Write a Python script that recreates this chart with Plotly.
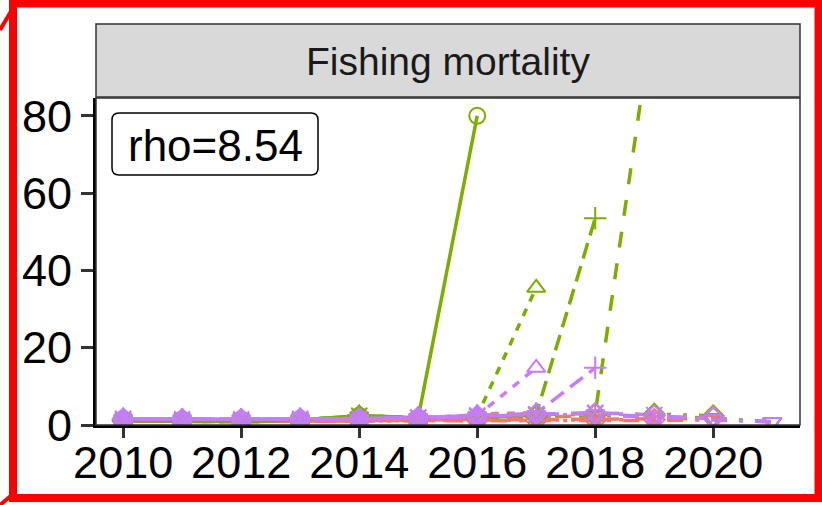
import plotly.graph_objects as go

# ---------------- data ----------------
years = list(range(2010, 2022))
peels = [2016, 2017, 2018, 2019, 2020, 2021]

# red model (one array per retrospective peel, values 2010..peel year)
red_2016 = [1.0, 0.9, 0.9, 1.0, 1.1, 1.3, 1.6]
red_2017 = [1.0, 0.9, 0.9, 1.0, 1.1, 1.3, 2.8, 3.2]
red_2018 = [1.0, 0.9, 0.9, 1.0, 1.1, 1.3, 1.5, 2.0, 2.4]
red_2019 = [1.0, 0.9, 0.9, 1.0, 1.1, 1.2, 1.3, 1.4, 1.5, 1.6]
red_2020 = [1.0, 0.9, 0.9, 1.0, 1.1, 1.2, 1.2, 1.2, 1.3, 1.4, 1.8]
red_2021 = [1.0, 0.9, 0.9, 1.0, 1.0, 1.1, 1.1, 1.1, 1.2, 1.2, 1.3, 0.8]

# green model
green_2016 = [1.2, 1.0, 1.0, 1.3, 2.4, 1.9, 80.0]
green_2017 = [1.2, 1.0, 1.0, 1.3, 2.4, 1.9, 2.4, 35.5]
green_2018 = [1.2, 1.0, 1.0, 1.3, 2.4, 1.9, 2.3, 2.8, 53.5]
green_2019 = [1.2, 1.0, 1.0, 1.3, 2.4, 1.9, 2.2, 2.6, 3.0, 108.0]
green_2020 = [1.2, 1.0, 1.0, 1.3, 2.3, 1.8, 2.1, 2.4, 2.8, 2.8, 2.4]
green_2021 = [1.2, 1.0, 1.0, 1.3, 2.2, 1.8, 2.0, 2.2, 2.5, 2.2, 1.8, 0.8]

# purple model
purple_2016 = [1.6, 1.5, 1.5, 1.6, 1.6, 1.9, 2.2]
purple_2017 = [1.6, 1.5, 1.5, 1.6, 1.6, 1.9, 2.4, 14.8]
purple_2018 = [1.6, 1.5, 1.5, 1.6, 1.6, 1.9, 2.5, 3.0, 14.8]
purple_2019 = [1.6, 1.5, 1.5, 1.6, 1.6, 1.9, 2.5, 2.8, 3.2, 2.6]
purple_2020 = [1.6, 1.5, 1.5, 1.6, 1.6, 1.9, 2.4, 2.8, 3.0, 2.4, 2.0]
purple_2021 = [1.6, 1.5, 1.5, 1.6, 1.6, 1.8, 2.3, 2.6, 2.8, 2.2, 1.6, 0.8]

rho_label = "rho=8.54"
panel_title = "Fishing mortality"
x_ticks = [2010, 2012, 2014, 2016, 2018, 2020]
y_ticks = [0, 20, 40, 60, 80]

models = [
    ("#F8766D", [red_2016, red_2017, red_2018, red_2019, red_2020, red_2021]),
    ("#7CAE00", [green_2016, green_2017, green_2018, green_2019, green_2020, green_2021]),
    ("#C77CFF", [purple_2016, purple_2017, purple_2018, purple_2019, purple_2020, purple_2021]),
]

# ---------------- styling ----------------
dashes = ["solid", "8px,8px", "16px,8px", "16px,16px", "4px,12px", "4px,12px,16px,12px"]
symbols = ["circle-open", "triangle-up-open", "cross-thin-open", "x-thin-open",
           "diamond-open", "triangle-down-open"]

W, H = 822, 505
L, R, T, B = 96, 22, 98, 80
PW, PH = W - L - R, H - T - B


def px(xp):
    return (xp - L) / PW


def py(yp):
    return (H - B - yp) / PH


fig = go.Figure()

# lines first, then points (ggplot layer order)
for color, series in models:
    for i, vals in enumerate(series):
        fig.add_trace(go.Scatter(
            x=years[:len(vals)], y=vals, mode="lines",
            line=dict(color=color, width=3.5, dash=dashes[i]),
            showlegend=False, hoverinfo="skip"))
for color, series in models:
    for i, vals in enumerate(series):
        fig.add_trace(go.Scatter(
            x=years[:len(vals)], y=vals, mode="markers",
            marker=dict(symbol=symbols[i], color=color, size=16,
                        line=dict(color=color, width=2)),
            showlegend=False, hoverinfo="skip"))

font = "Liberation Sans, Arial, sans-serif"

shapes = [
    # strip
    dict(type="rect", xref="paper", yref="paper",
         x0=px(96), x1=px(800), y0=py(97), y1=py(24),
         fillcolor="#D9D9D9", line=dict(color="#333333", width=1.5), layer="below"),
    # panel border
    dict(type="rect", xref="paper", yref="paper",
         x0=0, x1=1, y0=0, y1=1,
         line=dict(color="#333333", width=1.5), layer="above"),
    # red frame
    dict(type="rect", xref="paper", yref="paper",
         x0=px(13), x1=px(818.5), y0=py(498), y1=py(3.5),
         line=dict(color="#FF0000", width=8)),
    dict(type="line", xref="paper", yref="paper",
         x0=px(0), x1=px(13), y0=py(30), y1=py(8),
         line=dict(color="#FF0000", width=4)),
    dict(type="line", xref="paper", yref="paper",
         x0=px(0), x1=px(13), y0=py(505), y1=py(494),
         line=dict(color="#FF0000", width=4)),
]

# rounded box for rho label
bx0, bx1, by0, by1, rr = 112, 318, 113, 175, 7
path = (f"M {px(bx0+rr)},{py(by0)} L {px(bx1-rr)},{py(by0)} "
        f"Q {px(bx1)},{py(by0)} {px(bx1)},{py(by0+rr)} "
        f"L {px(bx1)},{py(by1-rr)} Q {px(bx1)},{py(by1)} {px(bx1-rr)},{py(by1)} "
        f"L {px(bx0+rr)},{py(by1)} Q {px(bx0)},{py(by1)} {px(bx0)},{py(by1-rr)} "
        f"L {px(bx0)},{py(by0+rr)} Q {px(bx0)},{py(by0)} {px(bx0+rr)},{py(by0)} Z")
shapes.append(dict(type="path", xref="paper", yref="paper", path=path,
                   fillcolor="white", line=dict(color="black", width=1.5)))

annotations = [
    dict(text=panel_title, xref="paper", yref="paper",
         x=px(448), y=py(61), xanchor="center", yanchor="middle",
         showarrow=False, font=dict(family=font, size=39, color="#1A1A1A")),
    dict(text=rho_label, xref="paper", yref="paper",
         x=px(215), y=py(145), xanchor="center", yanchor="middle",
         showarrow=False, font=dict(family=font, size=44, color="black")),
]

fig.update_layout(
    width=W, height=H,
    margin=dict(l=L, r=R, t=T, b=B, pad=0, autoexpand=False),
    paper_bgcolor="white", plot_bgcolor="white",
    shapes=shapes, annotations=annotations,
    xaxis=dict(range=[2009.54, 2021.47], tickvals=x_ticks, automargin=False,
               ticks="outside", ticklen=10, tickwidth=3, tickcolor="#333333",
               ticklabelstandoff=-14,
               showgrid=False, zeroline=False, showline=True,
               linecolor="black", linewidth=3,
               tickfont=dict(family=font, size=45, color="black")),
    yaxis=dict(range=[0, 84.6], tickvals=y_ticks, automargin=False,
               ticks="outside", ticklen=12, tickwidth=3, tickcolor="#333333",
               showgrid=False, zeroline=False, showline=True,
               linecolor="black", linewidth=3,
               tickfont=dict(family=font, size=45, color="black")),
)

fig.write_html(
    "out.html",
    config={"displayModeBar": False},
    post_script=("document.documentElement.style.overflow='hidden';"
                 "document.body.style.margin='0';"
                 "document.body.style.overflow='hidden';"),
)
